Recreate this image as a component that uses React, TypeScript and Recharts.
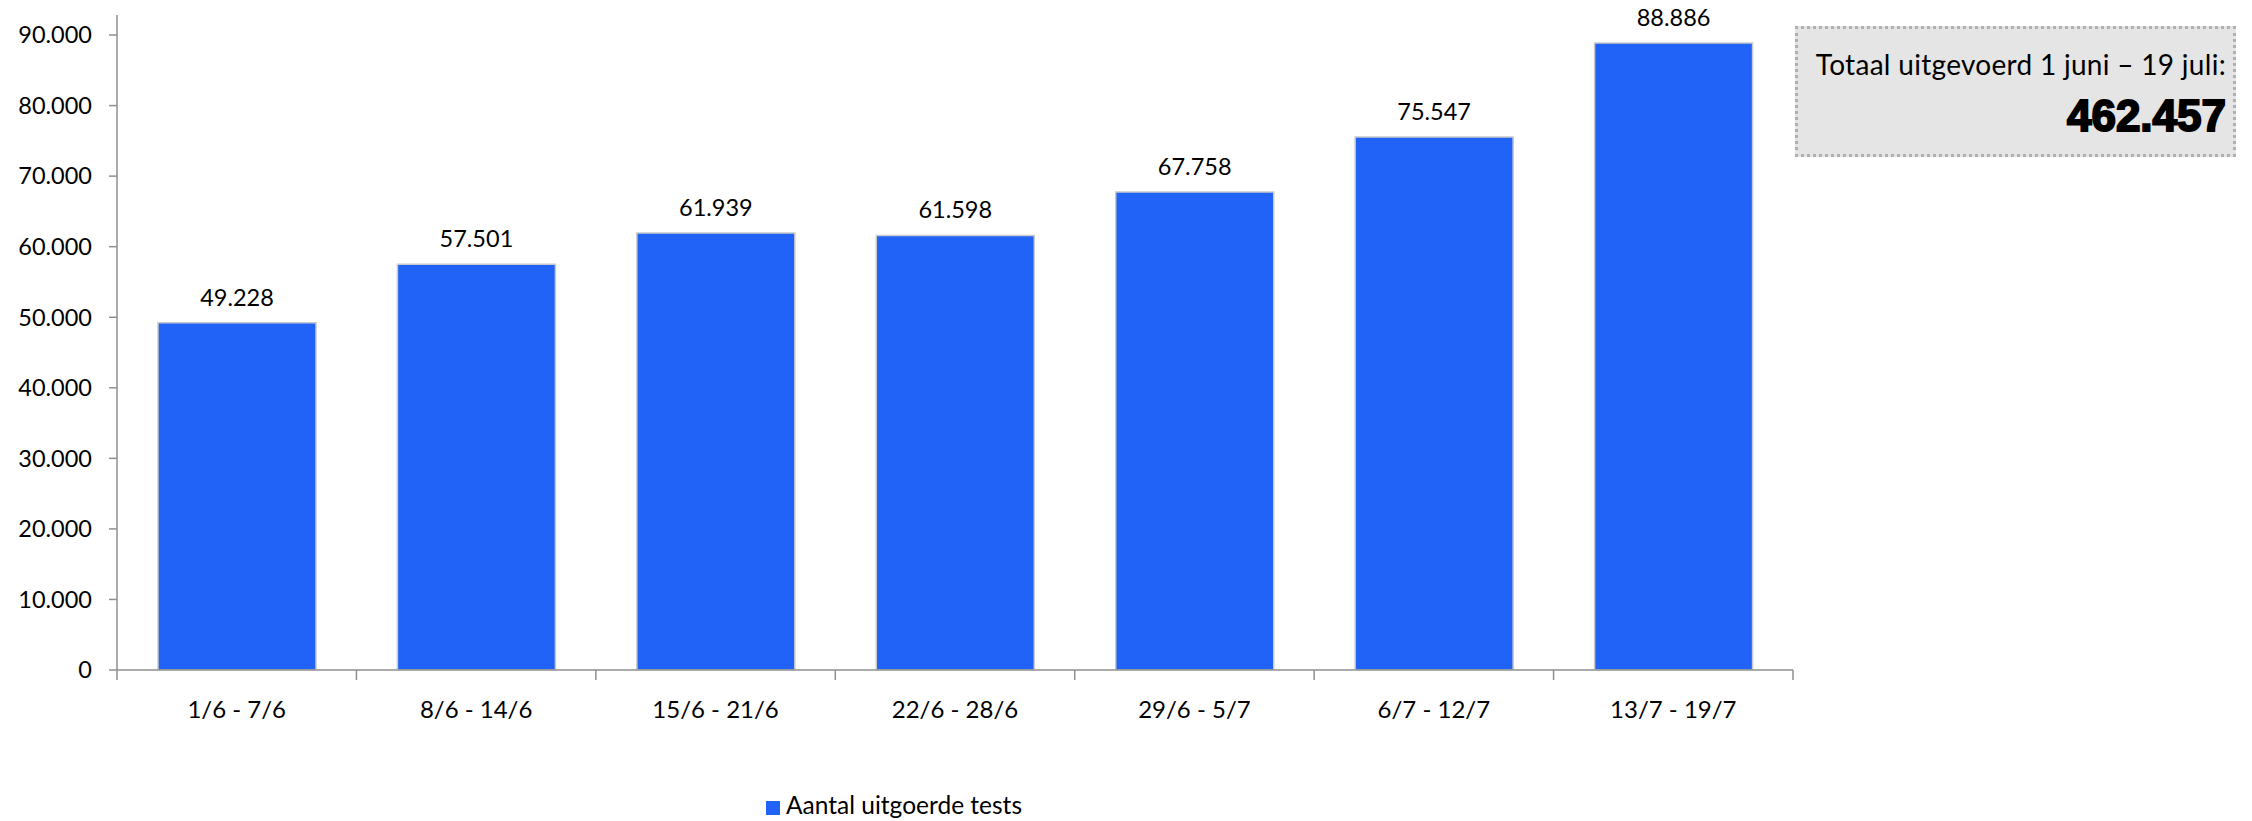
import { BarChart, Bar, XAxis, YAxis, Legend, LabelList } from "recharts";

const weeks = ["1/6 - 7/6", "8/6 - 14/6", "15/6 - 21/6", "22/6 - 28/6", "29/6 - 5/7", "6/7 - 12/7", "13/7 - 19/7"];
const tests = [49228, 57501, 61939, 61598, 67758, 75547, 88886];
const yTicks = [0, 10000, 20000, 30000, 40000, 50000, 60000, 70000, 80000, 90000];
const totalLabel = "Totaal uitgevoerd 1 juni – 19 juli:";
const totalValue = 462457;

const data = weeks.map((week, i) => ({ week, tests: tests[i] }));

const FONT = "Lato, 'Open Sans', sans-serif";
const AXIS = "#8f8f8f";
const BAND = (1793 - 117) / weeks.length;

const dots = (v: number) => String(v).replace(/\B(?=(\d{3})+(?!\d))/g, ".");

function WeekTick(props: any) {
  const { x, y, payload, index } = props;
  const last = index === weeks.length - 1;
  return (
    <g>
      <line x1={x - BAND / 2} y1={y - 8} x2={x - BAND / 2} y2={y + 2} stroke={AXIS} strokeWidth={1.5} />
      {last && <line x1={x + BAND / 2} y1={y - 8} x2={x + BAND / 2} y2={y + 2} stroke={AXIS} strokeWidth={1.5} />}
      <text x={x} y={y + 30} textAnchor="middle" dominantBaseline="central" fontSize={24} fontFamily={FONT} fill="#000">
        {payload.value}
      </text>
    </g>
  );
}

export default function App() {
  return (
    <div style={{ position: "absolute", left: 0, top: 0, width: 2252, height: 821, background: "#fff" }}>
      <BarChart width={2252} height={821} data={data} margin={{ top: 15, right: 459, bottom: 0, left: 0 }}>
        <XAxis
          dataKey="week"
          height={121}
          tickLine={false}
          tick={<WeekTick />}
          axisLine={{ stroke: AXIS, strokeWidth: 1.5 }}
        />
        <YAxis
          width={117}
          domain={[0, 92840]}
          ticks={yTicks}
          tickFormatter={dots}
          tickSize={8}
          tickMargin={17}
          axisLine={{ stroke: AXIS, strokeWidth: 1.5 }}
          tickLine={{ stroke: AXIS, strokeWidth: 1.5 }}
          tick={{ fill: "#000", fontSize: 23.5, fontFamily: FONT }}
          allowDataOverflow
        />
        <Legend
          verticalAlign="bottom"
          align="left"
          iconType="square"
          iconSize={14}
          wrapperStyle={{ left: 766, top: 790, width: 340, height: 30, fontFamily: FONT, fontSize: 24.5 }}
          formatter={() => <span style={{ color: "#000", marginLeft: 2 }}>Aantal uitgoerde tests</span>}
        />
        <Bar dataKey="tests" name="Aantal uitgoerde tests" fill="#2163F6" stroke="#c9c9c9" strokeWidth={1.5} barSize={158} isAnimationActive={false}>
          <LabelList dataKey="tests" position="top" offset={17} formatter={(v: any) => dots(Number(v))} style={{ fontSize: 23.5, fontFamily: FONT, fill: "#000" }} />
        </Bar>
      </BarChart>
      <div
        style={{
          position: "absolute",
          left: 1795,
          top: 26,
          width: 441,
          height: 131,
          boxSizing: "border-box",
          background: "#e5e5e5",
          border: "3px dotted #b0b0b0",
          textAlign: "right",
          paddingRight: 7,
          fontFamily: FONT,
          color: "#000",
        }}
      >
        <div style={{ fontSize: 28, marginTop: 18, lineHeight: "34px", letterSpacing: 0.3, whiteSpace: "nowrap" }}>{totalLabel}</div>
        <div
          style={{
            fontSize: 44,
            fontFamily: "'Liberation Sans', Arial, sans-serif",
            fontWeight: 900,
            WebkitTextStroke: "2px #000",
            lineHeight: "50px",
            marginTop: 10,
          }}
        >
          {dots(totalValue)}
        </div>
      </div>
    </div>
  );
}
